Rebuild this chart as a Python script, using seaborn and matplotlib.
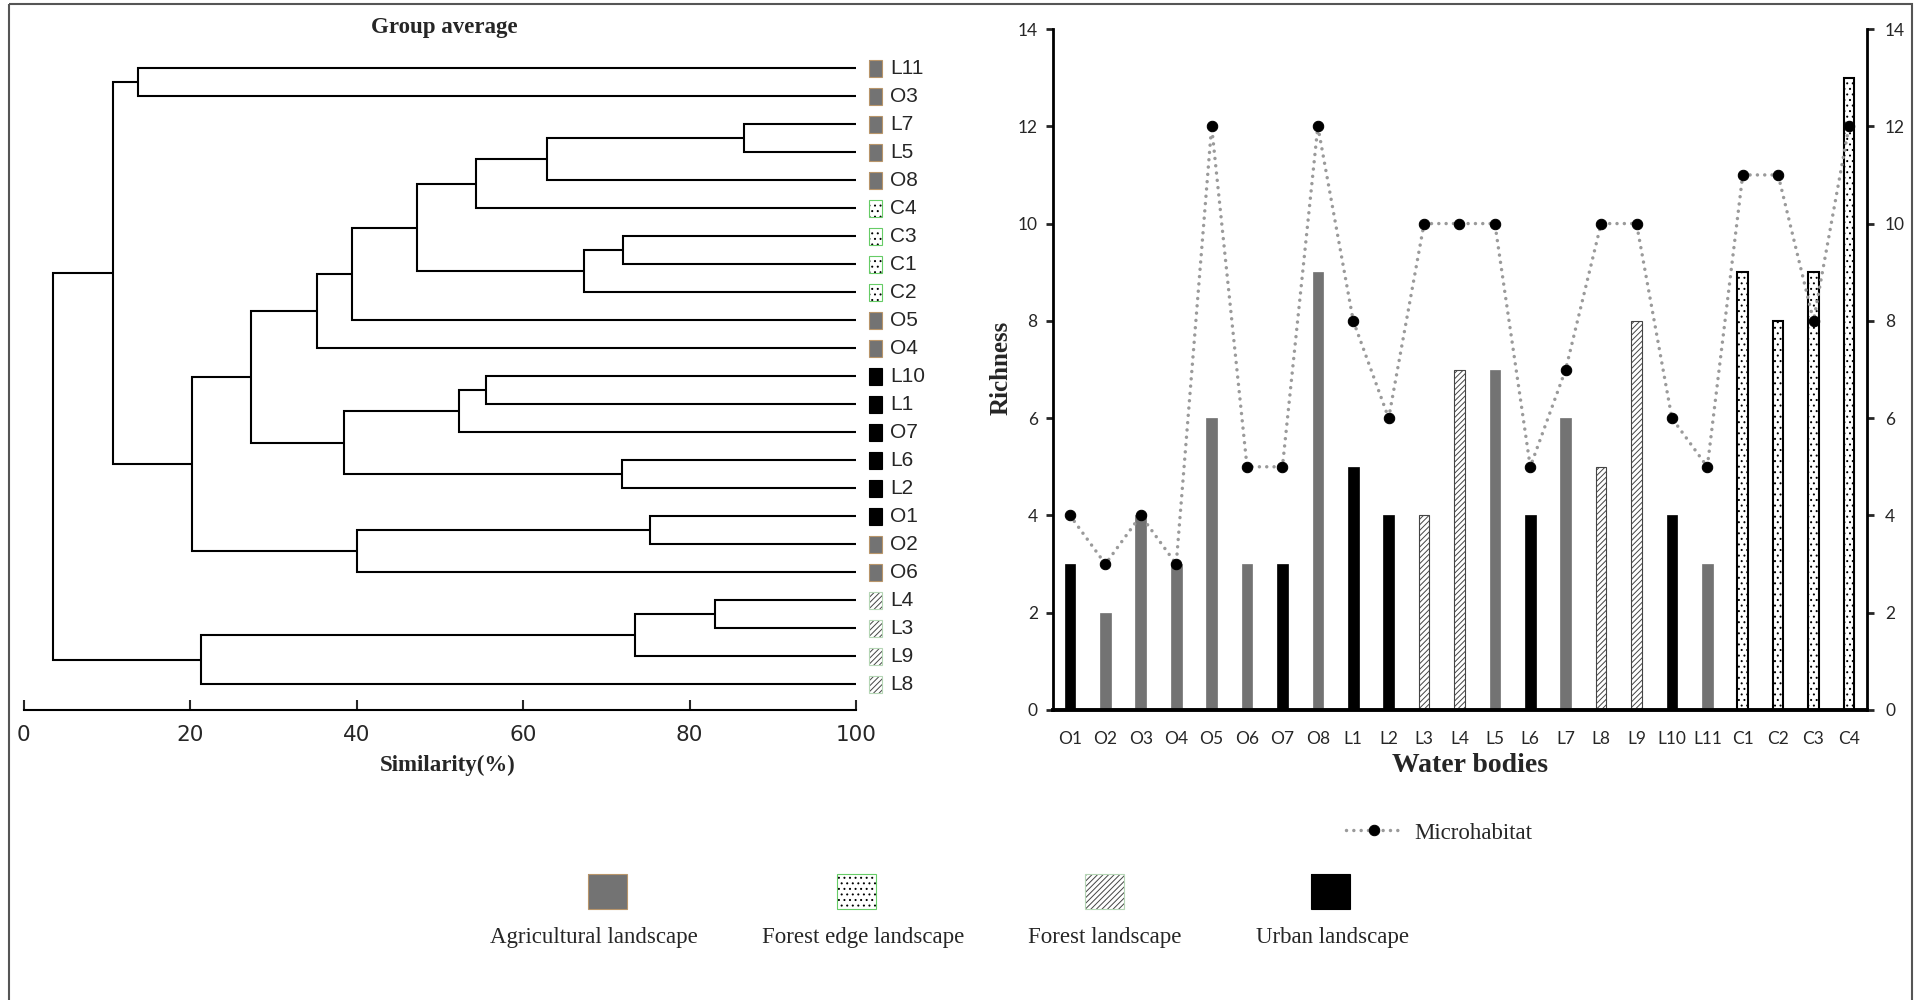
import numpy as np
import matplotlib
matplotlib.use('Agg')
import matplotlib.pyplot as plt
from matplotlib.patches import Rectangle
import seaborn as sns

# ---- data ----
water_bodies = ['O1', 'O2', 'O3', 'O4', 'O5', 'O6', 'O7', 'O8',
                'L1', 'L2', 'L3', 'L4', 'L5', 'L6', 'L7', 'L8', 'L9', 'L10', 'L11',
                'C1', 'C2', 'C3', 'C4']
richness = [3, 2, 4, 3, 6, 3, 3, 9, 5, 4, 4, 7, 7, 4, 6, 5, 8, 4, 3, 9, 8, 9, 13]
microhabitat = [4, 3, 4, 3, 12, 5, 5, 12, 8, 6, 10, 10, 10, 5, 7, 10, 10, 6, 5, 11, 11, 8, 12]
landscape = ['Urban', 'Agricultural', 'Agricultural', 'Agricultural', 'Agricultural',
             'Agricultural', 'Urban', 'Agricultural',
             'Urban', 'Urban', 'Forest', 'Forest', 'Agricultural', 'Urban', 'Agricultural',
             'Forest', 'Forest', 'Urban', 'Agricultural',
             'Forest edge', 'Forest edge', 'Forest edge', 'Forest edge']

# dendrogram (group average), leaves top to bottom
leaf_order = ['L11', 'O3', 'L7', 'L5', 'O8', 'C4', 'C3', 'C1', 'C2', 'O5', 'O4',
              'L10', 'L1', 'O7', 'L6', 'L2', 'O1', 'O2', 'O6', 'L4', 'L3', 'L9', 'L8']
# (child a, child b, similarity %) ; merged clusters are named c0, c1, ...
merges = [
    ('L7', 'L5', 86.6),   # c0
    ('c0', 'O8', 62.9),   # c1
    ('c1', 'C4', 54.3),   # c2
    ('C3', 'C1', 72.0),   # c3
    ('c3', 'C2', 67.3),   # c4
    ('c2', 'c4', 47.3),   # c5
    ('c5', 'O5', 39.4),   # c6
    ('c6', 'O4', 35.3),   # c7
    ('L10', 'L1', 55.5),  # c8
    ('c8', 'O7', 52.3),   # c9
    ('L6', 'L2', 71.9),   # c10
    ('c9', 'c10', 38.5),  # c11
    ('c7', 'c11', 27.3),  # c12
    ('O1', 'O2', 75.3),   # c13
    ('c13', 'O6', 40.0),  # c14
    ('c12', 'c14', 20.3), # c15
    ('L11', 'O3', 13.7),  # c16
    ('c16', 'c15', 10.7), # c17
    ('L4', 'L3', 83.1),   # c18
    ('c18', 'L9', 73.5),  # c19
    ('c19', 'L8', 21.3),  # c20
    ('c17', 'c20', 3.6),  # c21
]
similarity_ticks = [0, 20, 40, 60, 80, 100]
richness_ticks = [0, 2, 4, 6, 8, 10, 12, 14]
legend_order = ['Agricultural', 'Forest edge', 'Forest', 'Urban']
legend_names = ['Agricultural landscape', 'Forest edge landscape', 'Forest landscape', 'Urban landscape']

# ---- styles ----
styles = {
    'Agricultural': dict(facecolor='#737373', edgecolor='#737373', hatch=None, lw=0.5),
    'Forest edge': dict(facecolor='white', edgecolor='black', hatch='...', lw=1.5),
    'Forest': dict(facecolor='white', edgecolor='#444444', hatch='//////', lw=0.8),
    'Urban': dict(facecolor='black', edgecolor='black', hatch=None, lw=0.5),
}
key_edges = {'Agricultural': '#b8956a', 'Forest edge': '#66cc66', 'Forest': '#b5d6b5', 'Urban': 'black'}

sns.set_theme(style='white')
plt.rcParams['font.family'] = ['Liberation Serif', 'DejaVu Serif']
plt.rcParams['hatch.linewidth'] = 0.7

W, H = 1919, 1000
fig = plt.figure(figsize=(W / 100, H / 100), dpi=100)


def fx(px):
    return px / W


def fy(py):
    return 1 - py / H


# ---- dendrogram ----
axd = fig.add_axes([fx(23.5), fy(710), fx(856) - fx(23.5), fy(54.3) - fy(710)])
pos = {name: i for i, name in enumerate(leaf_order)}
level = {name: 100.0 for name in leaf_order}
for k, (a, b, s) in enumerate(merges):
    ya, yb = pos[a], pos[b]
    axd.plot([level[a], s, s, level[b]], [ya, ya, yb, yb], color='black', lw=1.5,
             solid_joinstyle='miter', solid_capstyle='butt')
    pos[f'c{k}'] = (ya + yb) / 2
    level[f'c{k}'] = s

kind_of = dict(zip(water_bodies, landscape))
for i, name in enumerate(leaf_order):
    st = styles[kind_of[name]]
    axd.add_patch(Rectangle((101.6, i - 0.3), 1.55, 0.6, facecolor=st['facecolor'],
                            edgecolor=st['edgecolor'] if st['hatch'] else 'none',
                            hatch=st['hatch'], lw=0, clip_on=False))
    axd.add_patch(Rectangle((101.6, i - 0.3), 1.55, 0.6, facecolor='none',
                            edgecolor=key_edges[kind_of[name]], lw=0.8, clip_on=False))
    axd.text(104.1, i, name, va='center', ha='left', fontsize=15,
             family=['Liberation Sans', 'DejaVu Sans'], clip_on=False)

axd.set_xlim(0, 100)
axd.set_ylim(22.92, -0.5)
axd.set_xticks(similarity_ticks)
axd.set_yticks([])
for side in ['top', 'left', 'right']:
    axd.spines[side].set_visible(False)
axd.spines['bottom'].set_linewidth(1.5)
axd.spines['bottom'].set_color('black')
axd.tick_params(axis='x', direction='in', length=7, width=1.5, pad=11, labelsize=15.5, bottom=True)
for lbl in axd.get_xticklabels():
    lbl.set_fontfamily(['Liberation Sans Narrow', 'DejaVu Sans'])
axd.patch.set_alpha(0)

fig.text(fx(444), fy(27), 'Group average', ha='center', va='center', fontsize=16.5, fontweight='bold')
fig.text(fx(448), fy(765), 'Similarity(%)', ha='center', va='center', fontsize=16.5, fontweight='bold')

# ---- bar chart ----
ax = fig.add_axes([fx(1053), fy(710), fx(1867) - fx(1053), fy(29) - fy(710)])
sns.barplot(x=water_bodies, y=richness, ax=ax, width=0.3, color='#737373', saturation=1)
for patch, kind in zip(ax.patches, landscape):
    st = styles[kind]
    patch.set_facecolor(st['facecolor'])
    patch.set_edgecolor(st['edgecolor'])
    patch.set_linewidth(st['lw'])
    if st['hatch']:
        patch.set_hatch(st['hatch'])

sns.lineplot(x=np.arange(len(water_bodies)), y=microhabitat, ax=ax, color='#9a9a9a', lw=2.5,
             linestyle=(0, (0.01, 2.1)), dash_capstyle='round', marker='o', markersize=7.5,
             markerfacecolor='black', markeredgecolor='black',
             zorder=4, legend=False)
micro_line = ax.get_lines()[-1]

ax.set_xlim(-0.48, 22.51)
ax.set_ylim(0, 14)
ax.set_yticks(richness_ticks)
ax.set_xlabel('')
ax.set_ylabel('')
ax.spines['top'].set_visible(False)
ax.spines['right'].set_visible(False)
ax.spines['left'].set_linewidth(2)
ax.spines['left'].set_color('black')
ax.spines['bottom'].set_linewidth(2.8)
ax.spines['bottom'].set_color('black')
ax.tick_params(axis='x', length=0, pad=15, labelsize=12.5)
ax.tick_params(axis='y', direction='out', length=5, width=2, pad=6, labelsize=12.5, left=True)
for lbl in ax.get_xticklabels() + ax.get_yticklabels():
    lbl.set_fontfamily(['Lato', 'DejaVu Sans'])

ax2 = ax.twinx()
ax2.set_ylim(0, 14)
ax2.set_yticks(richness_ticks)
for side in ['top', 'left', 'bottom']:
    ax2.spines[side].set_visible(False)
ax2.spines['right'].set_linewidth(2)
ax2.spines['right'].set_color('black')
ax2.tick_params(axis='y', direction='out', length=5, width=2, pad=8, labelsize=12.5, right=True)
for lbl in ax2.get_yticklabels():
    lbl.set_fontfamily(['Lato', 'DejaVu Sans'])
ax2.grid(False)

fig.text(fx(1001), fy(368), 'Richness', rotation=90, ha='center', va='center',
         fontsize=18, fontweight='bold')
fig.text(fx(1470), fy(765), 'Water bodies', ha='center', va='center',
         fontsize=20, fontweight='bold')

# microhabitat legend
fig.legend(handles=[micro_line], labels=['Microhabitat'], loc='center left',
           bbox_to_anchor=(fx(1346), fy(833)), bbox_transform=fig.transFigure,
           frameon=False, borderpad=0, borderaxespad=0, handlelength=2.4,
           handletextpad=0.6, prop={'size': 16.5})

# landscape key
lg = fig.add_axes([0, 0, 1, 1])
lg.set_xlim(0, W)
lg.set_ylim(H, 0)
lg.axis('off')
key_x = [607, 856, 1104, 1330]
text_x = [594, 863, 1105, 1333]
for kind, name, kx, tx in zip(legend_order, legend_names, key_x, text_x):
    st = styles[kind]
    lg.add_patch(Rectangle((kx - 19.5, 874), 39, 35, facecolor=st['facecolor'],
                           edgecolor=st['edgecolor'] if st['hatch'] else 'none',
                           hatch=st['hatch'], lw=0))
    lg.add_patch(Rectangle((kx - 19.5, 874), 39, 35, facecolor='none',
                           edgecolor=key_edges[kind], lw=0.8))
    lg.text(tx, 937, name, ha='center', va='center', fontsize=16.5)

# outer frame
lg.add_patch(Rectangle((8.5, 4), 1912 - 8.5, 1010, facecolor='none', edgecolor='#555555',
                       lw=1.5, clip_on=False))

fig.savefig('out.png', dpi=100)
